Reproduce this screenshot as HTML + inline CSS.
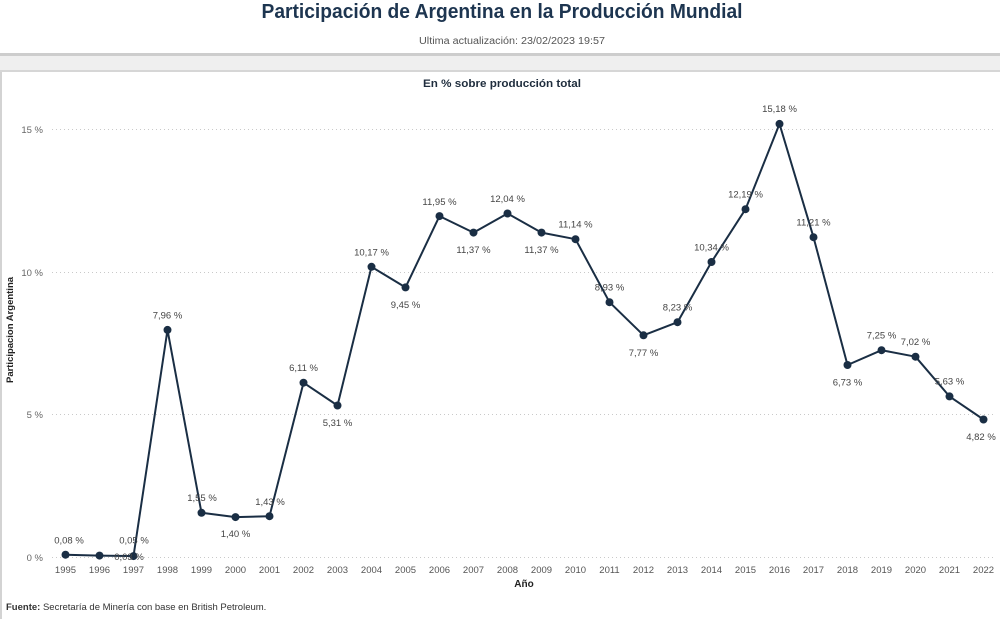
<!DOCTYPE html>
<html>
<head>
<meta charset="utf-8">
<style>
html,body{margin:0;padding:0;background:#fff;}
svg{display:block;}
text{font-family:"Liberation Sans",Arial,sans-serif;}
</style>
</head>
<body>
<svg width="1000" height="619" viewBox="0 0 1000 619" xmlns="http://www.w3.org/2000/svg">
  <rect x="0" y="0" width="1000" height="619" fill="#ffffff"/>
  <!-- header -->
  <text x="502" y="18" text-anchor="middle" font-size="20" font-weight="bold" fill="#1d3550" textLength="481" lengthAdjust="spacingAndGlyphs">Participación de Argentina en la Producción Mundial</text>
  <text x="512" y="44" text-anchor="middle" font-size="10" fill="#555" textLength="186" lengthAdjust="spacingAndGlyphs">Ultima actualización: 23/02/2023 19:57</text>
  <!-- separator band -->
  <rect x="0" y="53" width="1000" height="3" fill="#cdcdcd"/>
  <rect x="0" y="56" width="1000" height="14" fill="#efefef"/>
  <rect x="0" y="70" width="1000" height="2" fill="#d6d6d6"/>
  <!-- card left border -->
  <rect x="0" y="72" width="2" height="547" fill="#d3d3d3"/>
  <!-- card title -->
  <text x="502" y="87" text-anchor="middle" font-size="11" font-weight="bold" fill="#1f2d3d" textLength="158" lengthAdjust="spacingAndGlyphs">En % sobre producción total</text>

  <!-- gridlines -->
  <g stroke="#c9c9c9" stroke-width="1" stroke-dasharray="1,3">
    <line x1="52" y1="129.5" x2="995" y2="129.5"/>
    <line x1="52" y1="272.5" x2="995" y2="272.5"/>
    <line x1="52" y1="414.5" x2="995" y2="414.5"/>
    <line x1="52" y1="557.5" x2="995" y2="557.5"/>
  </g>
  <!-- y ticks -->
  <g font-size="9.5" fill="#666" text-anchor="end">
    <text x="43" y="133">15 %</text>
    <text x="43" y="276">10 %</text>
    <text x="43" y="418">5 %</text>
    <text x="43" y="561">0 %</text>
  </g>
  <!-- y axis title -->
  <text transform="translate(13,330) rotate(-90)" text-anchor="middle" font-size="9.5" font-weight="bold" fill="#222" textLength="106" lengthAdjust="spacingAndGlyphs">Participacion Argentina</text>

  <!-- x ticks -->
  <g font-size="9.5" fill="#555" text-anchor="middle">
    <text x="65.5" y="573">1995</text>
    <text x="99.5" y="573">1996</text>
    <text x="133.5" y="573">1997</text>
    <text x="167.5" y="573">1998</text>
    <text x="201.5" y="573">1999</text>
    <text x="235.5" y="573">2000</text>
    <text x="269.5" y="573">2001</text>
    <text x="303.5" y="573">2002</text>
    <text x="337.5" y="573">2003</text>
    <text x="371.5" y="573">2004</text>
    <text x="405.5" y="573">2005</text>
    <text x="439.5" y="573">2006</text>
    <text x="473.5" y="573">2007</text>
    <text x="507.5" y="573">2008</text>
    <text x="541.5" y="573">2009</text>
    <text x="575.5" y="573">2010</text>
    <text x="609.5" y="573">2011</text>
    <text x="643.5" y="573">2012</text>
    <text x="677.5" y="573">2013</text>
    <text x="711.5" y="573">2014</text>
    <text x="745.5" y="573">2015</text>
    <text x="779.5" y="573">2016</text>
    <text x="813.5" y="573">2017</text>
    <text x="847.5" y="573">2018</text>
    <text x="881.5" y="573">2019</text>
    <text x="915.5" y="573">2020</text>
    <text x="949.5" y="573">2021</text>
    <text x="983.5" y="573">2022</text>
  </g>
  <text x="524" y="587" text-anchor="middle" font-size="10" font-weight="bold" fill="#222">Año</text>

  <!-- series line -->
  <polyline fill="none" stroke="#1a2e44" stroke-width="2" stroke-linejoin="round"
    points="65.5,554.7 99.5,555.6 133.5,556.1 167.5,329.9 201.5,512.8 235.5,517.1 269.5,516.2 303.5,382.7 337.5,405.5 371.5,266.8 405.5,287.4 439.5,216.1 473.5,232.6 507.5,213.5 541.5,232.6 575.5,239.2 609.5,302.2 643.5,335.3 677.5,322.2 711.5,262.0 745.5,209.2 779.5,123.9 813.5,237.2 847.5,365.0 881.5,350.2 915.5,356.7 949.5,396.4 983.5,419.5"/>
  <!-- markers -->
  <g fill="#1a2e44">
    <circle cx="65.5" cy="554.7" r="4"/>
    <circle cx="99.5" cy="555.6" r="4"/>
    <circle cx="133.5" cy="556.1" r="4"/>
    <circle cx="167.5" cy="329.9" r="4"/>
    <circle cx="201.5" cy="512.8" r="4"/>
    <circle cx="235.5" cy="517.1" r="4"/>
    <circle cx="269.5" cy="516.2" r="4"/>
    <circle cx="303.5" cy="382.7" r="4"/>
    <circle cx="337.5" cy="405.5" r="4"/>
    <circle cx="371.5" cy="266.8" r="4"/>
    <circle cx="405.5" cy="287.4" r="4"/>
    <circle cx="439.5" cy="216.1" r="4"/>
    <circle cx="473.5" cy="232.6" r="4"/>
    <circle cx="507.5" cy="213.5" r="4"/>
    <circle cx="541.5" cy="232.6" r="4"/>
    <circle cx="575.5" cy="239.2" r="4"/>
    <circle cx="609.5" cy="302.2" r="4"/>
    <circle cx="643.5" cy="335.3" r="4"/>
    <circle cx="677.5" cy="322.2" r="4"/>
    <circle cx="711.5" cy="262.0" r="4"/>
    <circle cx="745.5" cy="209.2" r="4"/>
    <circle cx="779.5" cy="123.9" r="4"/>
    <circle cx="813.5" cy="237.2" r="4"/>
    <circle cx="847.5" cy="365.0" r="4"/>
    <circle cx="881.5" cy="350.2" r="4"/>
    <circle cx="915.5" cy="356.7" r="4"/>
    <circle cx="949.5" cy="396.4" r="4"/>
    <circle cx="983.5" cy="419.5" r="4"/>
  </g>
  <!-- data labels -->
  <g font-size="9.5" fill="#444" text-anchor="middle">
    <text x="69" y="543.5">0,08 %</text>
    <text x="134" y="543.5">0,05 %</text>
    <text x="129" y="560">0,03 %</text>
    <text x="167.5" y="318.5">7,96 %</text>
    <text x="202" y="501">1,55 %</text>
    <text x="235.5" y="537">1,40 %</text>
    <text x="270" y="505">1,43 %</text>
    <text x="303.5" y="371">6,11 %</text>
    <text x="337.5" y="426">5,31 %</text>
    <text x="371.5" y="255.5">10,17 %</text>
    <text x="405.5" y="308">9,45 %</text>
    <text x="439.5" y="205">11,95 %</text>
    <text x="473.5" y="253">11,37 %</text>
    <text x="507.5" y="202">12,04 %</text>
    <text x="541.5" y="253">11,37 %</text>
    <text x="575.5" y="227.5">11,14 %</text>
    <text x="609.5" y="290.5">8,93 %</text>
    <text x="643.5" y="356">7,77 %</text>
    <text x="677.5" y="310.5">8,23 %</text>
    <text x="711.5" y="250.5">10,34 %</text>
    <text x="745.5" y="197.5">12,19 %</text>
    <text x="779.5" y="112">15,18 %</text>
    <text x="813.5" y="225.5">11,21 %</text>
    <text x="847.5" y="385.5">6,73 %</text>
    <text x="881.5" y="338.5">7,25 %</text>
    <text x="915.5" y="345">7,02 %</text>
    <text x="949.5" y="384.5">5,63 %</text>
    <text x="981" y="440">4,82 %</text>
  </g>

  <!-- footer -->
  <text x="6" y="610" font-size="9.5" fill="#333"><tspan font-weight="bold">Fuente:</tspan> Secretaría de Minería con base en British Petroleum.</text>
</svg>
</body>
</html>
